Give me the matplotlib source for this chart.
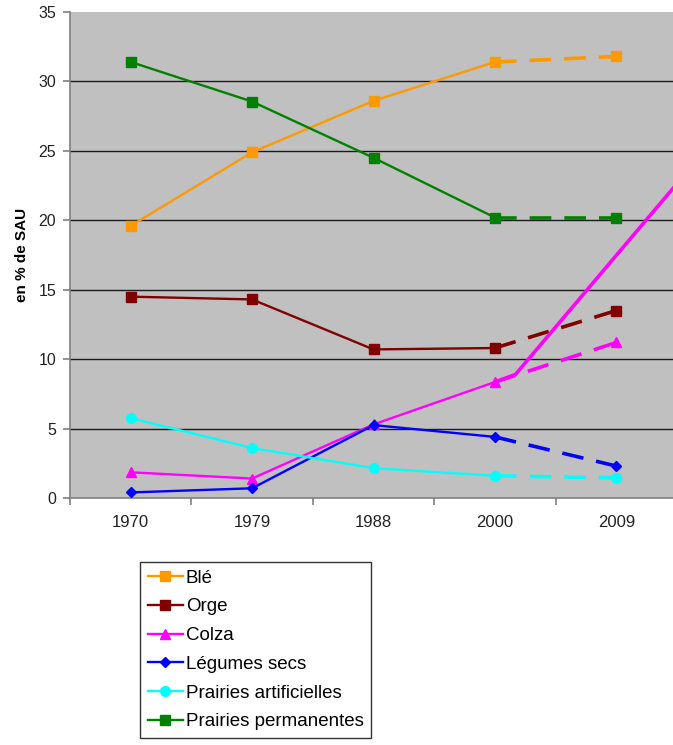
import matplotlib.pyplot as plt

plt.rcParams['font.family'] = ['Liberation Sans', 'DejaVu Sans']

years = ["1970", "1979", "1988", "2000", "2009"]

ble = [19.6, 24.9, 28.6, 31.4, 31.8]
orge = [14.5, 14.3, 10.7, 10.8, 13.5]
colza = [1.85, 1.4, 5.3, 8.35, 11.2]
legumes = [0.4, 0.7, 5.25, 4.4, 2.3]
prairies_art = [5.75, 3.6, 2.15, 1.6, 1.45]
prairies_perm = [31.4, 28.55, 24.5, 20.2, 20.2]

# stray colza trend segment running off the right edge
colza_trend_x = [3, 3.17, 5.0]
colza_trend_y = [8.35, 8.9, 27.8]

series = [
    ("Blé", ble, "#FF9900", "s"),
    ("Orge", orge, "#800000", "s"),
    ("Colza", colza, "#FF00FF", "^"),
    ("Légumes secs", legumes, "#0000FF", "D"),
    ("Prairies artificielles", prairies_art, "#00FFFF", "o"),
    ("Prairies permanentes", prairies_perm, "#008000", "s"),
]

fig = plt.figure(figsize=(6.73, 7.45), dpi=100)
ax = fig.add_axes([70 / 673, 1 - 498 / 745, 607 / 673, 486 / 745])
ax.set_facecolor("#C0C0C0")

x = list(range(len(years)))
msize = {"s": 6.5, "^": 7.5, "D": 5.5, "o": 7}
for name, vals, color, marker in series:
    ax.plot(x[:4], vals[:4], color=color, lw=1.7, marker=marker,
            markersize=msize[marker], label=name, zorder=3)
    ax.plot(x[3:], vals[3:], color=color, lw=2.6, dashes=(6, 3.6),
            zorder=3)
    ax.plot(x[4:], vals[4:], color=color, lw=0, marker=marker,
            markersize=msize[marker], zorder=3)

ax.plot(colza_trend_x, colza_trend_y, color="#FF00FF", lw=2.6, zorder=4)

ax.set_xlim(-0.5, 4.5)
ax.set_ylim(0, 35)
ax.set_yticks(range(0, 36, 5))
ax.set_xticks(x)
ax.set_xticklabels(years)
ax.set_xticks([i - 0.5 for i in range(6)], minor=True)
ax.tick_params(axis="x", which="major", length=0, pad=12, labelsize=12, labelcolor="#222222")
ax.tick_params(axis="x", which="minor", length=5, color="#808080", width=1.2)
ax.tick_params(axis="y", length=5, color="#808080", width=1.2, labelsize=11.5,
               labelcolor="#222222", pad=5)

for y in range(5, 35, 5):
    ax.axhline(y, color="#1a1a1a", lw=1, zorder=1)

for side in ("top", "right"):
    ax.spines[side].set_visible(False)
for side in ("left", "bottom"):
    ax.spines[side].set_color("#808080")
    ax.spines[side].set_linewidth(1.2)

ax.set_ylabel("en % de SAU", fontsize=11, fontweight="bold", labelpad=7)

leg = fig.legend(loc="upper left", bbox_to_anchor=(140 / 673, 1 - 562 / 745),
                 frameon=True, fancybox=False, edgecolor="black", fontsize=13.5,
                 handlelength=1.9, handletextpad=0.15, labelspacing=0.62,
                 borderpad=0.4, borderaxespad=0)
leg.get_frame().set_linewidth(1.0)

fig.savefig("out.png", dpi=100)
